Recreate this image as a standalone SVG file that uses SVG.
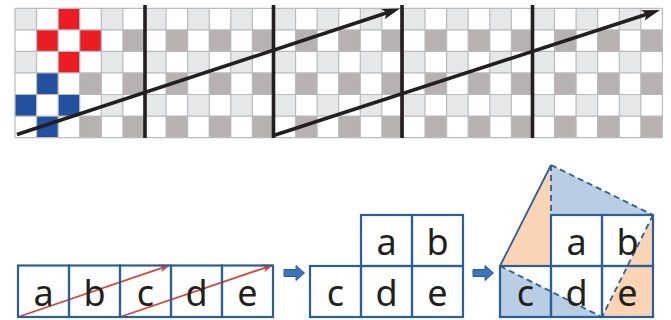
<svg xmlns="http://www.w3.org/2000/svg" width="671" height="320" viewBox="0 0 671 320">
<style>
.lt{fill:#e6e7e8}.dk{fill:#b7b1b1}.red{fill:#ec1c24}.blu{fill:#2450a0}
.grid{stroke:#b9bbbd;stroke-width:1.2;fill:none}
.thick{stroke:#231f20;stroke-width:3.6;fill:none}
.cell{fill:none;stroke:#2c5f95;stroke-width:2.2}
.dash{fill:none;stroke:#2c5f95;stroke-width:1.8;stroke-dasharray:6 4}
.solid{fill:none;stroke:#2c5f95;stroke-width:1.8}
.t{font-family:"Noto Sans","Open Sans","DejaVu Sans",sans-serif;font-size:36px;fill:#231f20;text-anchor:middle}
.ra{stroke:#d2483c;stroke-width:1.8;fill:none}
.blk{fill:#3c75b9;stroke:#2b5a91;stroke-width:1}
.org{fill:#fbd4b5}.lbl{fill:#b9cde5}
</style>
<defs>
<pattern id="chk" patternUnits="userSpaceOnUse" x="15" y="8.3" width="43.16" height="43.1">
<rect x="0" y="0" width="21.58" height="21.55" class="lt"/>
<rect x="21.58" y="21.55" width="21.58" height="21.55" class="dk"/>
</pattern>
<marker id="ah" markerUnits="userSpaceOnUse" viewBox="0 0 18 11" markerWidth="18" markerHeight="11" refX="9" refY="5.5" orient="auto">
<path d="M0,0 L18,5.5 L0,11 L4,5.5 Z" fill="#231f20"/>
</marker>
<marker id="rh" markerUnits="userSpaceOnUse" viewBox="0 0 11 8" markerWidth="11" markerHeight="8" refX="8" refY="4" orient="auto">
<path d="M0,0 L11,4 L0,8 L2.5,4 Z" fill="#d2483c"/>
</marker>
</defs>

<g id="grid">
<rect x="15" y="8.3" width="647.4" height="129.3" fill="#ffffff"/>
<rect x="15" y="8.3" width="647.4" height="129.3" fill="url(#chk)"/>
<rect x="58.16" y="8.3" width="21.58" height="21.55" class="red"/>
<rect x="36.58" y="29.85" width="21.58" height="21.55" class="red"/>
<rect x="79.74" y="29.85" width="21.58" height="21.55" class="red"/>
<rect x="58.16" y="51.4" width="21.58" height="21.55" class="red"/>
<rect x="36.58" y="72.95" width="21.58" height="21.55" class="blu"/>
<rect x="15" y="94.5" width="21.58" height="21.55" class="blu"/>
<rect x="58.16" y="94.5" width="21.58" height="21.55" class="blu"/>
<rect x="36.58" y="116.05" width="21.58" height="21.55" class="blu"/>
<path class="grid" d="M15,8.3V137.6M36.58,8.3V137.6M58.16,8.3V137.6M79.74,8.3V137.6M101.32,8.3V137.6M122.9,8.3V137.6M144.48,8.3V137.6M166.06,8.3V137.6M187.64,8.3V137.6M209.22,8.3V137.6M230.8,8.3V137.6M252.38,8.3V137.6M273.96,8.3V137.6M295.54,8.3V137.6M317.12,8.3V137.6M338.7,8.3V137.6M360.28,8.3V137.6M381.86,8.3V137.6M403.44,8.3V137.6M425.02,8.3V137.6M446.6,8.3V137.6M468.18,8.3V137.6M489.76,8.3V137.6M511.34,8.3V137.6M532.92,8.3V137.6M554.5,8.3V137.6M576.08,8.3V137.6M597.66,8.3V137.6M619.24,8.3V137.6M640.82,8.3V137.6M662.4,8.3V137.6M15,8.3H662.4M15,29.85H662.4M15,51.4H662.4M15,72.95H662.4M15,94.5H662.4M15,116.05H662.4M15,137.6H662.4"/>
</g>

<g id="connectors">
<path class="thick" d="M145,5V138M273.5,5V138M402,5V138M532.5,5V138"/>
<line class="thick" x1="17" y1="134.5" x2="391.5" y2="11.3" marker-end="url(#ah)"/>
<line class="thick" x1="273.5" y1="135.5" x2="651.4" y2="12.8" marker-end="url(#ah)"/>
<line class="ra" x1="18" y1="317" x2="167.8" y2="265.8" marker-end="url(#rh)"/>
<line class="ra" x1="120" y1="317" x2="270.8" y2="265.8" marker-end="url(#rh)"/>
<path class="blk" d="M284,269.5H296V265.5L304.5,273L296,280.5V276.5H284Z"/>
<path class="blk" d="M473,269.5H485V265.5L493.5,273L485,280.5V276.5H473Z"/>
</g>

<g id="row1">
<rect class="cell" x="18" y="265.5" width="51" height="51.5"/>
<rect class="cell" x="69" y="265.5" width="51" height="51.5"/>
<rect class="cell" x="120" y="265.5" width="51" height="51.5"/>
<rect class="cell" x="171" y="265.5" width="51" height="51.5"/>
<rect class="cell" x="222" y="265.5" width="51" height="51.5"/>
<text class="t" x="43.5" y="306">a</text>
<text class="t" x="94.5" y="306">b</text>
<text class="t" x="145.5" y="306">c</text>
<text class="t" x="196.5" y="306">d</text>
<text class="t" x="247.5" y="306">e</text>
</g>
<g id="mid">
<rect class="cell" x="361" y="215" width="51" height="51"/>
<rect class="cell" x="412" y="215" width="51" height="51"/>
<rect class="cell" x="310" y="266" width="51" height="51"/>
<rect class="cell" x="361" y="266" width="51" height="51"/>
<rect class="cell" x="412" y="266" width="51" height="51"/>
<text class="t" x="386.5" y="255">a</text>
<text class="t" x="437.5" y="255">b</text>
<text class="t" x="335.5" y="306">c</text>
<text class="t" x="386.5" y="306">d</text>
<text class="t" x="437.5" y="306">e</text>
</g>
<g id="right">
<path class="org" d="M500,266L551,165L551,266Z"/>
<path class="lbl" d="M551,165L653,215L551,215Z"/>
<path class="org" d="M653,215L653,317L602,317Z"/>
<path class="lbl" d="M500,266L602,317L500,317Z"/>
<rect class="cell" x="551" y="215" width="51" height="51"/>
<rect class="cell" x="602" y="215" width="51" height="51"/>
<rect class="cell" x="500" y="266" width="51" height="51"/>
<rect class="cell" x="551" y="266" width="51" height="51"/>
<rect class="cell" x="602" y="266" width="51" height="51"/>
<path class="solid" d="M500,266L551,165"/>
<path class="dash" d="M551,165V215M551,165L653,215M653,215L602,317M500,266L602,317"/>
<text class="t" x="576.5" y="255">a</text>
<text class="t" x="627.5" y="255">b</text>
<text class="t" x="525.5" y="306">c</text>
<text class="t" x="576.5" y="306">d</text>
<text class="t" x="627.5" y="306">e</text>
</g>
</svg>
